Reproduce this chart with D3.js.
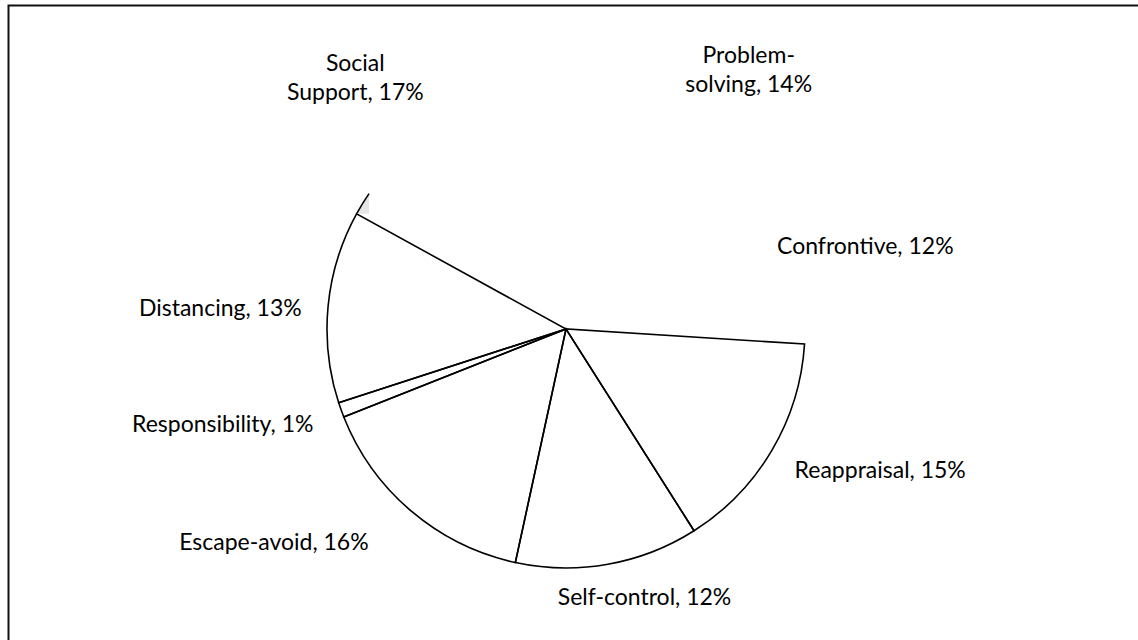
<!DOCTYPE html>
<html>
<head>
<meta charset="utf-8">
<script src="https://cdn.jsdelivr.net/npm/d3@7"></script>
<style>
  html, body { margin: 0; padding: 0; background: #fff; }
  svg text { font-family: Lato, "Liberation Sans", sans-serif; font-size: 23px; fill: #000; }
</style>
</head>
<body>
<div id="chart"></div>
<script>
'use strict';

// slices in drawing order, clockwise from 12 o'clock
const categories = ['Problem-solving', 'Confrontive', 'Reappraisal', 'Self-control',
    'Escape-avoid', 'Responsibility', 'Distancing', 'Social Support'];
const percents = [14, 12, 15, 12.4, 15.6, 1, 13, 17];
// the top three slices are blank in the source picture
const outlined = [false, false, true, true, true, true, true, false];
// label text split into lines as in the source
const labelLines = [
    ['Problem-', 'solving, 14%'],
    ['Confrontive, 12%'],
    ['Reappraisal, 15%'],
    ['Self-control, 12%'],
    ['Escape-avoid, 16%'],
    ['Responsibility, 1%'],
    ['Distancing, 13%'],
    ['Social', 'Support, 17%']
];

const width = 1138, height = 640;
const cx = 566, cy = 329, radius = 239;
const labelRadius = 300;
// best-fit nudges for labels (layout only)
const nudges = [[55, 12], [14, 10], [56, -12], [26, -27], [-98, -16], [-61, -7], [-47, 7], [-58, 7]];

const svg = d3.select('#chart')
    .append('svg')
    .attr('width', width)
    .attr('height', height);

// frame (only top and left edges fall inside the picture)
svg.append('rect')
    .attr('x', 8.5).attr('y', 5.5)
    .attr('width', 1300).attr('height', 800)
    .attr('fill', 'none')
    .attr('stroke', '#111')
    .attr('stroke-width', 2);

const g = svg.append('g').attr('transform', `translate(${cx},${cy})`);

const pie = d3.pie().sort(null).value(d => d)(percents);
const arc = d3.arc().innerRadius(0).outerRadius(radius);

// fills first, outlines on top so blank slices do not cover shared edges
g.selectAll('path.fill')
    .data(pie)
    .join('path')
    .attr('class', 'fill')
    .attr('d', arc)
    .attr('fill', '#fff');

g.selectAll('path.edge')
    .data(pie.filter((d, i) => outlined[i]))
    .join('path')
    .attr('class', 'edge')
    .attr('d', arc)
    .attr('fill', 'none')
    .attr('stroke', '#000')
    .attr('stroke-width', 1.6);

// leftover fragment of the Social Support outline
const ss = pie[7];
const fragEnd = ss.startAngle + 5.7 * Math.PI / 180;
const pt = a => [radius * Math.sin(a), -radius * Math.cos(a)];
const p0 = pt(ss.startAngle), p1 = pt(fragEnd);
const shade = d3.path();
shade.moveTo(p0[0] + 1, p0[1]);
shade.arc(0, 0, radius, ss.startAngle - Math.PI / 2, fragEnd - Math.PI / 2);
shade.lineTo(p1[0], p0[1]);
shade.closePath();
g.append('path')
    .attr('d', shade.toString())
    .attr('fill', '#e6e6e6')
    .attr('stroke', 'none');
g.append('path')
    .attr('d', d3.arc().innerRadius(radius).outerRadius(radius)
        .startAngle(ss.startAngle).endAngle(fragEnd)())
    .attr('fill', 'none')
    .attr('stroke', '#000')
    .attr('stroke-width', 1.6);

// labels
const labelArc = d3.arc().innerRadius(labelRadius).outerRadius(labelRadius);
const lineH = 29;

g.selectAll('text.label')
    .data(pie)
    .join('text')
    .attr('class', 'label')
    .attr('text-anchor', 'middle')
    .each(function (d, i) {
        const c = labelArc.centroid(d);
        const x = c[0] + nudges[i][0];
        const y = c[1] + nudges[i][1];
        const lines = labelLines[i];
        const top = y - (lines.length - 1) * lineH / 2 + 8;
        d3.select(this).selectAll('tspan')
            .data(lines)
            .join('tspan')
            .attr('x', x)
            .attr('y', (t, k) => top + k * lineH)
            .text(t => t);
    });
</script>
</body>
</html>
